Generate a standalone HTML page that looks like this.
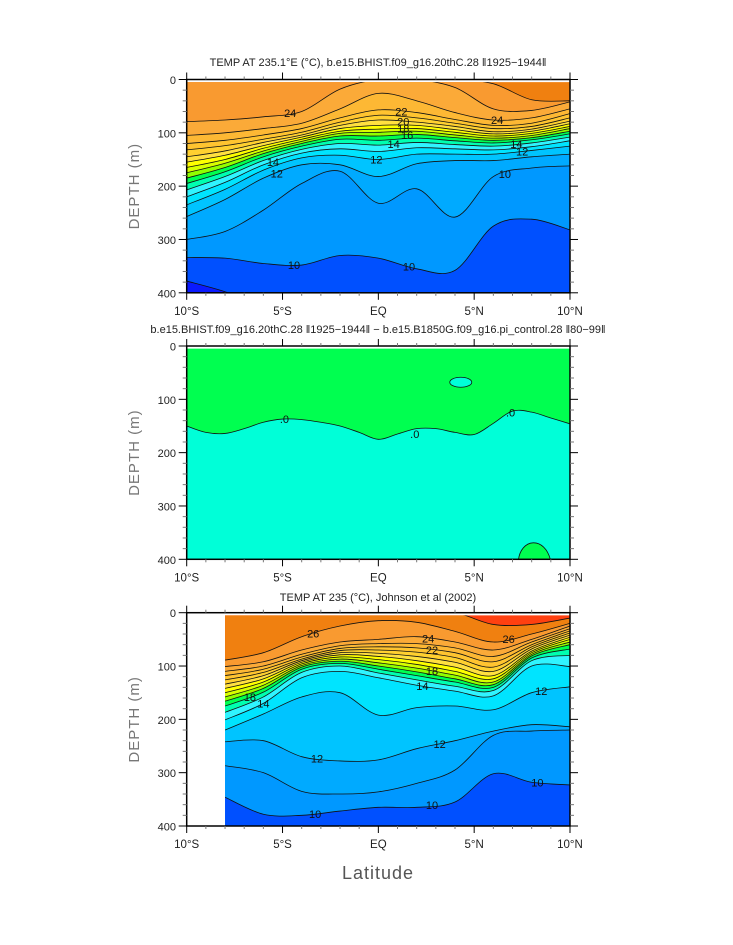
<!DOCTYPE html>
<html><head><meta charset="utf-8">
<style>
html,body{margin:0;padding:0;background:#fff;}
svg{display:block;font-family:"Liberation Sans",sans-serif;}
</style></head>
<body>
<svg id="chart" width="733" height="945" viewBox="0 0 733 945" xmlns="http://www.w3.org/2000/svg"></svg>
<script>
// ---------- DATA ----------
const p1Lats = [-10,-8,-6,-4,-2,0,2,4,6,8,10];
const p1Levels = [26,25,24,23,22,21,20,19,18,17,16,15,14,13,12,11,10,9];
const p1Depths = [
 [0,0,0,0,0,0,0,0,8,38,40],
 [79,76,70,60,18,0,0,15,55,58,42],
 [105,100,92,82,55,26,40,62,76,72,55],
 [120,114,104,92,72,57,62,75,86,82,64],
 [132,124,112,99,80,67,72,82,92,88,72],
 [145,134,118,104,86,76,80,88,98,93,78],
 [155,142,124,108,92,86,86,94,102,97,83],
 [165,150,129,112,97,93,92,99,106,101,88],
 [175,157,134,116,101,99,97,104,110,105,92],
 [185,165,139,120,106,106,103,109,114,109,97],
 [195,173,145,125,112,114,110,115,119,113,102],
 [207,182,152,131,120,123,118,122,125,119,108],
 [220,193,160,138,130,135,128,130,132,126,115],
 [235,206,170,147,142,150,140,140,140,133,125],
 [257,225,185,160,160,182,158,152,152,145,140],
 [300,285,245,195,172,232,205,258,182,166,162],
 [334,335,345,348,330,335,355,358,275,262,282],
 [378,398,425,440,440,440,440,440,440,440,440]
];
const p2Lats = [-10,-9,-8,-7,-6,-5,-4,-3,-2,-1,0,1,2,3,4,5,6,7,8,9,10];
const p2Zero = [150,162,164,155,143,137,138,143,150,162,175,165,155,155,162,166,145,122,124,135,146];
const p3Lats = [-8,-6,-4,-2,0,2,4,6,8,10];
const p3Levels = [27,26,25,24,23,22,21,20,19,18,17,16,15,14,13,12,11,10];
const p3Depths = [
 [0,0,0,0,0,0,0,22,22,10],
 [89,75,45,25,15,18,35,55,40,20],
 [101,92,70,55,50,45,55,70,50,25],
 [110,100,78,62,58,58,66,82,55,30],
 [118,106,83,67,64,66,75,92,60,34],
 [126,112,87,71,70,74,84,102,64,38],
 [134,118,90,75,76,82,93,110,68,42],
 [142,124,93,79,82,90,102,118,72,46],
 [150,130,96,83,88,97,110,124,75,50],
 [158,136,99,87,94,104,117,130,78,55],
 [166,142,102,91,100,111,124,135,81,60],
 [175,149,106,95,106,118,130,140,85,68],
 [187,158,112,100,113,126,138,146,90,80],
 [201,170,122,110,122,136,147,156,100,101],
 [220,190,158,150,192,178,175,182,150,139],
 [242,240,270,278,276,255,240,222,210,214],
 [287,300,335,340,336,320,295,230,222,220],
 [346,378,380,372,365,365,355,302,318,323]
];
const xTickLabels = ["10°S","5°S","EQ","5°N","10°N"];
const yTickLabels = ["0","100","200","300","400"];
// band colour by lower bound temperature
const palette = {8:"#0a1aff",9:"#0050ff",10:"#0098ff",11:"#00aaff",12:"#00c4ff",13:"#00e4ff",14:"#30f4ff",
 15:"#00ffb0",16:"#00ff50",17:"#90ff00",18:"#d8ff00",19:"#ffff00",20:"#ffe040",21:"#ffd030",22:"#ffc430",
 23:"#fdb834",24:"#fbaa38",25:"#f99a30",26:"#f08010",27:"#ff4010"};

// ---------- DRAWING ----------
const NS="http://www.w3.org/2000/svg";
const svg=document.getElementById('chart');
const X0=186.7, X1=570;
function el(tag,attrs,parent){const e=document.createElementNS(NS,tag);for(const k in attrs)e.setAttribute(k,attrs[k]);(parent||svg).appendChild(e);return e;}
function xS(lat){return X0+(lat+10)/20*(X1-X0);}
function mkY(top){return d=>top+d/400*213.3;}
function smoothPath(pts){
  let d=`M${pts[0][0]},${pts[0][1]}`;
  for(let i=0;i<pts.length-1;i++){
    const p0=pts[Math.max(0,i-1)],p1=pts[i],p2=pts[i+1],p3=pts[Math.min(pts.length-1,i+2)];
    const c1=[p1[0]+(p2[0]-p0[0])/6,p1[1]+(p2[1]-p0[1])/6];
    const c2=[p2[0]-(p3[0]-p1[0])/6,p2[1]-(p3[1]-p1[1])/6];
    d+=` C${c1[0]},${c1[1]} ${c2[0]},${c2[1]} ${p2[0]},${p2[1]}`;
  }
  return d;
}
function axes(top,idx,showX){
  const yS=mkY(top), bot=yS(400);
  const g=el('g',{});
  
  
  el('rect',{x:X0,y:top,width:X1-X0,height:bot-top,fill:'none',stroke:'#000','stroke-width':1.5},g);
  for(let lat=-10;lat<=10;lat++){
    const x=xS(lat), major=lat%5===0;
    el('line',{x1:x,x2:x,y1:bot,y2:bot+(major?7:3),stroke:major?'#000':'#777','stroke-width':1},g);
    el('line',{x1:x,x2:x,y1:top,y2:top-(major?7:3),stroke:major?'#000':'#777','stroke-width':1},g);
  }
  for(let d=0;d<=400;d+=20){
    const y=yS(d), major=d%100===0;
    el('line',{x1:X0,x2:X0-(major?8:4),y1:y,y2:y,stroke:major?'#000':'#777','stroke-width':1},g);
    el('line',{x1:X1,x2:X1+(major?8:4),y1:y,y2:y,stroke:major?'#000':'#777','stroke-width':1},g);
  }
  yTickLabels.forEach((t,i)=>{
    const tx=el('text',{x:176,y:yS(i*100)+4.5,'text-anchor':'end','font-size':11,fill:'#222'},g);
    tx.textContent=t;
    
    
  });
  if(showX) xTickLabels.forEach((t,i)=>{
    const tx=el('text',{x:xS(-10+i*5),y:bot+22,'text-anchor':'middle','font-size':11.5,fill:'#222'},g);
    tx.textContent=t;
    
    
  });
  const yt=el('text',{x:0,y:0,transform:`translate(139,${(top+bot)/2}) rotate(-90)`,'text-anchor':'middle','font-size':15,fill:'#777','letter-spacing':'1'},g);
  yt.textContent='DEPTH (m)';
  
  
}
function contourPanel(idx,top,lats,levels,depths,topColor,labels){
  const yS=mkY(top), bot=yS(400);
  const cid='clip'+idx;
  const cp=el('clipPath',{id:cid});
  el('rect',{x:xS(lats[0]),y:yS(5),width:xS(lats[lats.length-1])-xS(lats[0]),height:bot-yS(5)},cp);
  const g=el('g',{'clip-path':`url(#${cid})`});
  
  
  el('rect',{x:X0,y:top,width:X1-X0,height:bot-top,fill:topColor},g);
  levels.forEach((lv,k)=>{
    const pts=lats.map((la,i)=>[xS(la),yS(depths[k][i])]);
    const line=smoothPath(pts);
    const f=el('path',{d:line+` L${pts[pts.length-1][0]},${bot+40} L${pts[0][0]},${bot+40} Z`,fill:palette[lv-1]||'#0a1aff'},g);
    
    
  });
  levels.forEach((lv,k)=>{
    const pts=lats.map((la,i)=>[xS(la),yS(depths[k][i])]);
    const c=el('path',{d:smoothPath(pts),fill:'none',stroke:'#111','stroke-width':0.8},g);
    
    
  });
  labels.forEach(([lv,la,t])=>{
    const k=levels.indexOf(lv);
    let i=0;while(i<lats.length-2&&lats[i+1]<la)i++;
    const f=(la-lats[i])/(lats[i+1]-lats[i]);
    const d=depths[k][i]+(depths[k][i+1]-depths[k][i])*f;
    const tx=el('text',{x:xS(la),y:yS(d)+4,'text-anchor':'middle','font-size':11,fill:'#111'},g);
    tx.textContent=t;
    
    
  });
}
function title(y,t,name){
  const tx=el('text',{x:378,y:y,'text-anchor':'middle','font-size':11,fill:'#222'});
  tx.textContent=t;
  
  
}

// Panel 1
const T1=79.5;
contourPanel(1,T1,p1Lats,p1Levels,p1Depths,palette[26],[[25,-4.6,'24'],[23,1.2,'22'],[21,1.3,'20'],[19,1.3,'18'],[17,1.5,'16'],[15,0.8,'14'],[13,-0.1,'12'],[12,-5.3,'12'],[14,-5.5,'14'],[10,-4.4,'10'],[10,1.6,'10'],[11,6.6,'10'],[24,6.2,'24'],[13,7.5,'12'],[15,7.2,'14']]);
axes(T1,1,true);
title(66,'TEMP AT 235.1°E (°C), b.e15.BHIST.f09_g16.20thC.28 ‖1925−1944‖','title-panel-1');

// Panel 2
const T2=346;
(function(){
  const yS=mkY(T2), bot=yS(400);
  const cp=el('clipPath',{id:'clip2'});
  el('rect',{x:X0,y:yS(5),width:X1-X0,height:bot-yS(5)},cp);
  const g=el('g',{'clip-path':'url(#clip2)'});
  
  
  el('rect',{x:X0,y:T2,width:X1-X0,height:bot-T2,fill:'#00ff50'},g);
  const pts=p2Lats.map((la,i)=>[xS(la),yS(p2Zero[i])]);
  const line=smoothPath(pts);
  const f=el('path',{d:line+` L${X1},${bot+10} L${X0},${bot+10} Z`,fill:'#00ffd8'},g);
  
  
  const c=el('path',{d:line,fill:'none',stroke:'#111','stroke-width':0.8},g);
  
  
  const e=el('ellipse',{cx:xS(4.3),cy:yS(68),rx:11,ry:5,fill:'#00ffd8',stroke:'#111','stroke-width':0.8},g);
  
  
  const b=el('path',{d:`M${xS(7.3)},${bot+2} C${xS(7.4)},${yS(360)} ${xS(8.7)},${yS(355)} ${xS(9.0)},${bot+2} Z`,fill:'#00ff50',stroke:'#111','stroke-width':0.8},g);
  
  
  [[-4.9,137],[1.9,165],[6.9,125]].forEach(([la,d])=>{
    const tx=el('text',{x:xS(la),y:yS(d)+4,'text-anchor':'middle','font-size':11,fill:'#111'},g);
    tx.textContent='.0';
    
    
  });
})();
axes(T2,2,true);
title(333,'b.e15.BHIST.f09_g16.20thC.28 ‖1925−1944‖ − b.e15.B1850G.f09_g16.pi_control.28 ‖80−99‖','title-panel-2');

// Panel 3
const T3=612.7;
contourPanel(3,T3,p3Lats,p3Levels,p3Depths,palette[27],[[26,-3.4,'26'],[25,2.6,'24'],[23,2.8,'22'],[18,2.8,'18'],[16,-6.7,'18'],[14,-6,'14'],[14,2.3,'14'],[12,-3.2,'12'],[12,3.2,'12'],[13,8.5,'12'],[10,-3.3,'10'],[10,2.8,'10'],[10,8.3,'10'],[26,6.8,'26']]);
axes(T3,3,true);
title(601,'TEMP AT 235 (°C), Johnson et al (2002)','title-panel-3');

const xt=el('text',{x:378,y:879,'text-anchor':'middle','font-size':18,fill:'#555','letter-spacing':'1'});
xt.textContent='Latitude';


</script>
</body></html>
